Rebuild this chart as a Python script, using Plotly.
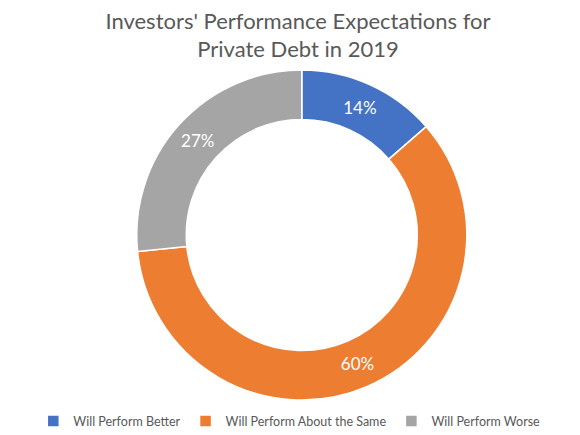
import plotly.graph_objects as go

# Datos del gráfico
categorias = ["Will Perform Better", "Will Perform About the Same", "Will Perform Worse"]
valores = [13.6, 59.8, 26.6]
colores = ["#4472C4", "#ED7D31", "#A5A5A5"]

fig = go.Figure(go.Pie(
    labels=categorias,
    values=valores,
    hole=0.70,
    sort=False,
    direction="clockwise",
    rotation=0,
    marker=dict(colors=colores, line=dict(color="white", width=1.5)),
    texttemplate="%{percent:.0%}",
    textposition="inside",
    insidetextorientation="horizontal",
    textfont=dict(family="Lato", size=17, color="white"),
    domain=dict(x=[0.222, 0.791], y=[0, 1]),
))

fig.update_layout(
    width=580, height=435,
    margin=dict(l=0, r=0, t=62, b=43),
    paper_bgcolor="white",
    title=dict(
        text="Investors' Performance Expectations for<br>Private Debt in 2019",
        x=0.5, xanchor="center", y=0.952, yanchor="middle",
        font=dict(family="Lato", size=22, color="#595959"),
    ),
    legend=dict(
        orientation="h", x=0.485, xanchor="center", y=-0.065, yanchor="middle",
        font=dict(family="Lato", size=12.5, color="#595959"),
        itemwidth=30,
    ),
)

fig.write_html("out.html")
